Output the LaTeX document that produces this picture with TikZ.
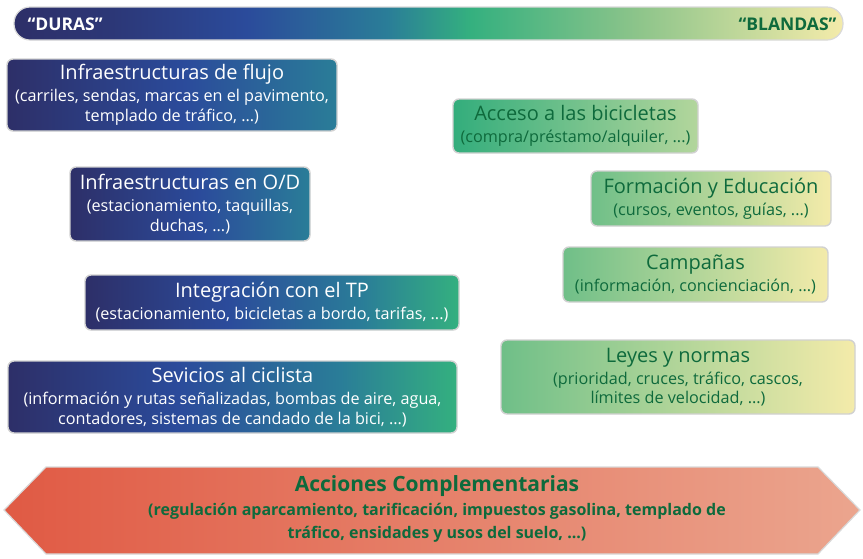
\documentclass[tikz,border=0pt]{standalone}
\usepackage{fontspec}
\setmainfont{Open Sans}
\definecolor{navy}{HTML}{2D2F68}
\definecolor{blu}{HTML}{2B4B9B}
\definecolor{teal1}{HTML}{2A7D98}
\definecolor{grn}{HTML}{34B07F}
\definecolor{lgrn}{HTML}{8CC48A}
\definecolor{pale}{HTML}{F4EBAA}
\definecolor{dgreen}{HTML}{0E6A3C}
\definecolor{red1}{HTML}{E05A44}
\definecolor{red2}{HTML}{EBA58E}
\definecolor{sA1}{HTML}{33AD7C}
\definecolor{sA2}{HTML}{B3D69C}
\definecolor{sB1}{HTML}{6FBF88}
\pgfdeclarehorizontalshading{barsh}{100bp}{color(0bp)=(navy); color(25bp)=(navy); color(31bp)=(navy!70!blu); color(39bp)=(blu); color(47.5bp)=(teal1); color(52.5bp)=(grn); color(62.5bp)=(lgrn); color(75bp)=(pale); color(100bp)=(pale)}
\pgfdeclarehorizontalshading{hardA}{100bp}{color(0bp)=(navy); color(25bp)=(navy); color(52bp)=(blu); color(75bp)=(teal1); color(100bp)=(teal1)}
\pgfdeclarehorizontalshading{hardB}{100bp}{color(0bp)=(navy); color(25bp)=(navy); color(44bp)=(blu); color(62bp)=(teal1); color(75bp)=(grn); color(100bp)=(grn)}
\pgfdeclarehorizontalshading{softA}{100bp}{color(0bp)=(sA1); color(25bp)=(sA1); color(75bp)=(sA2); color(100bp)=(sA2)}
\pgfdeclarehorizontalshading{softB}{100bp}{color(0bp)=(sB1); color(25bp)=(sB1); color(75bp)=(pale); color(100bp)=(pale)}
\pgfdeclarehorizontalshading{arrsh}{100bp}{color(0bp)=(red1); color(25bp)=(red1); color(75bp)=(red2); color(100bp)=(red2)}
\tikzset{
  x=1pt, y=-1pt,
  box/.style={rounded corners=6pt, draw=black!18, line width=1.4pt, align=center, inner sep=0pt,
    font=\fontsize{16.2}{19.5}\selectfont},
  hardbox/.style={box, text=white, shading=hardA},
  hardboxB/.style={box, text=white, shading=hardB},
  softbox/.style={box, text=dgreen, shading=softB},
}
\newcommand{\ttlx}[1]{{\fontsize{20}{22}\selectfont #1}\\[2.5pt]}
\begin{document}
\begin{tikzpicture}
\useasboundingbox (0,0) rectangle (863,558);
% top bar
\path[rounded corners=16pt, shading=barsh, draw=black!15, line width=1.2pt] (14,7) rectangle (843,40);
\node[anchor=west, text=white, font=\bfseries\fontsize{17.5}{20}\selectfont] (duras) at (24,24) {“DURAS”};
\node[anchor=east, text=dgreen, font=\bfseries\fontsize{17.5}{20}\selectfont] (blandas) at (840,24) {“BLANDAS”};
% hard boxes
\node[hardbox, minimum width=330pt, minimum height=72pt] (flujo) at (172,95)
  {\ttlx{Infraestructuras de flujo}(carriles, sendas, marcas en el pavimento,\\templado de tráfico, ...)};
\node[hardbox, minimum width=240pt, minimum height=74pt] (od) at (190,204)
  {\ttlx{Infraestructuras en O/D}(estacionamiento, taquillas,\\duchas, ...)};
\node[hardboxB, minimum width=374pt, minimum height=55pt] (tp) at (272,302.5)
  {\ttlx{Integración con el TP}(estacionamiento, bicicletas a bordo, tarifas, ...)};
\node[hardboxB, minimum width=449pt, minimum height=72pt] (serv) at (232.5,397)
  {\ttlx{Sevicios al ciclista}(información y rutas señalizadas, bombas de aire, agua,\\contadores, sistemas de candado de la bici, ...)};
% soft boxes
\node[softbox, shading=softA, minimum width=245pt, minimum height=54pt] (acceso) at (575.5,126)
  {\ttlx{Acceso a las bicicletas}(compra/préstamo/alquiler, ...)};
\node[softbox, minimum width=240pt, minimum height=55pt] (form) at (711,198.5)
  {\ttlx{Formación y Educación}(cursos, eventos, guías, ...)};
\node[softbox, minimum width=265pt, minimum height=55pt] (camp) at (695.5,274.5)
  {\ttlx{Campañas}(información, concienciación, ...)};
\node[softbox, minimum width=354pt, minimum height=74pt] (leyes) at (678,377)
  {\ttlx{Leyes y normas}(prioridad, cruces, tráfico, cascos,\\límites de velocidad, ...)};
% bottom arrow
\path[shading=arrsh, draw=black!15, line width=1.2pt] (4,510) -- (46,467) -- (818,467) -- (860,510) -- (818,554) -- (46,554) -- cycle;
\node[text=dgreen, align=center, font=\bfseries\fontsize{16}{23}\selectfont] (acc) at (437,509)
  {{\fontsize{21}{23}\selectfont Acciones Complementarias}\\[1pt](regulación aparcamiento, tarificación, impuestos gasolina, templado de\\tráfico, ensidades y usos del suelo, ...)};
\end{tikzpicture}
\end{document}
